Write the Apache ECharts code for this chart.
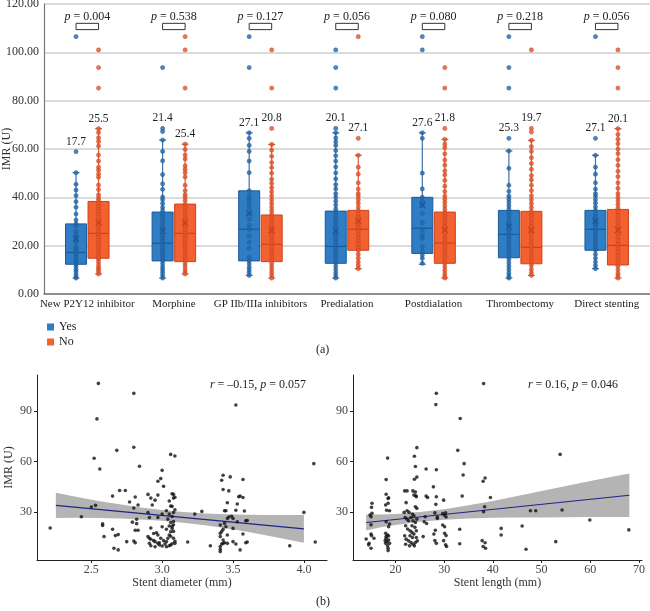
<!DOCTYPE html>
<html><head><meta charset="utf-8">
<script src="https://cdn.jsdelivr.net/npm/echarts@6/dist/echarts.min.js"></script>
<style>html,body{margin:0;padding:0;background:#fff}#c{width:650px;height:611px}</style>
</head><body><div id="c"></div>
<script>
// ---------- Panel (a) data ----------
const categories = ['New P2Y12 inhibitor','Morphine','GP IIb/IIIa inhibitors','Predialation','Postdialation','Thrombectomy','Direct stenting'];
const pValues = ['0.004','0.538','0.127','0.056','0.080','0.218','0.056'];
const yesLabels = ['17.7','21.4','27.1','20.1','27.6','25.3','27.1'];
const noLabels  = ['25.5','25.4','20.8','27.1','21.8','19.7','20.1'];
// [min, Q1, median, Q3, max]
const yesStats = [
  [6.6,12.3,17.2,29.0,50.2],[6.6,13.7,21.0,33.9,63.7],[7.7,13.7,26.8,42.7,66.7],
  [6.6,12.7,19.7,34.3,66.7],[12.3,16.8,27.2,40.0,66.7],[6.6,15.0,24.7,34.6,59.2],[10.5,18.1,26.8,34.6,57.4]];
const noStats = [
  [8.3,14.8,25.1,38.3,68.4],[8.3,13.4,25.1,37.2,62.0],[6.6,13.4,20.6,32.7,61.9],
  [10.5,18.1,26.8,34.6,57.4],[6.6,12.7,21.1,33.9,64.0],[7.7,12.5,19.3,34.2,63.6],[6.6,12.0,20.1,35.0,68.4]];
const yesMeans = [22.8,26.0,33.4,26.0,36.8,27.9,30.2];
const noMeans  = [29.5,29.5,26.5,30.2,26.5,26.5,26.5];
const yesPoints = [
  [106.5,58.9,50.2,45.4,43.0,40.7,38.2,35.9,33.1,30.6,29.0,28.1,25.8,24.4,23.4,22.6,21.6,19.6,18.5,17.5,16.4,15.4,14.2,13.4,12.3,11.3,10.1,9.2,8.0,7.1,6.6],
  [93.7,68.5,67.2,63.7,59.0,55.1,49.4,45.6,43.3,40.1,39.0,37.4,35.8,34.5,33.1,31.9,30.2,29.0,27.6,26.4,25.3,24.1,23.0,21.8,20.7,19.5,18.2,17.1,16.0,14.8,13.7,12.5,11.2,10.1,9.0,7.8,6.6],
  [106.5,93.7,66.7,64.4,61.5,59.0,55.0,50.2,42.7,40.5,39.0,37.2,35.8,33.5,31.0,28.5,26.8,24.0,21.4,19.0,15.2,13.7,12.4,11.0,9.9,8.8,7.7],
  [101.0,93.7,85.2,68.5,66.7,64.6,63.0,61.5,59.4,57.2,55.0,52.6,50.1,47.6,45.3,43.5,41.5,40.0,38.4,36.8,35.2,34.0,32.6,31.2,29.8,28.4,27.0,25.6,24.2,22.8,21.4,20.0,18.6,17.2,15.8,14.4,13.0,11.6,10.2,8.8,7.6,6.6],
  [106.5,101.0,66.7,64.4,50.0,43.5,40.0,38.2,36.7,33.4,29.5,26.5,24.4,23.0,19.6,17.5,16.1,14.8,12.7],
  [106.5,93.7,85.2,64.4,59.2,52.0,45.0,42.5,40.5,39.3,38.0,36.6,35.2,33.8,32.4,31.0,29.6,28.2,26.8,25.4,24.0,22.6,21.2,19.8,18.4,17.0,15.6,14.2,12.8,11.4,10.0,8.6,7.4,6.6],
  [106.5,64.4,57.4,52.5,49.6,46.0,43.4,41.5,40.5,39.0,37.6,36.0,34.6,33.0,31.6,30.2,28.9,27.5,26.1,24.7,23.3,21.9,20.5,19.1,18.1,16.4,14.8,13.2,11.8,10.5]];
const noPoints = [
  [101.0,93.7,85.2,68.4,66.8,64.6,63.1,61.2,57.5,55.0,52.4,51.2,49.6,48.3,45.1,43.2,41.0,39.8,38.9,37.6,36.3,35.1,34.2,33.0,31.7,30.4,29.3,28.4,27.1,26.0,24.7,23.5,22.3,21.4,20.2,19.1,17.8,16.6,15.5,14.4,13.3,12.1,11.0,10.2,9.3,8.3],
  [106.5,101.0,85.2,62.0,59.8,57.5,55.9,53.0,51.6,50.2,48.4,45.0,42.8,41.1,40.0,38.7,37.2,35.8,34.1,32.9,31.5,30.3,29.1,27.8,26.5,25.1,23.9,22.7,21.3,20.2,19.0,17.6,16.4,15.2,14.0,12.8,11.6,10.3,9.2,8.3],
  [101.0,85.2,68.5,61.9,59.5,57.0,54.4,52.3,50.0,47.5,45.8,44.0,42.3,40.6,39.0,37.5,36.0,34.6,33.2,31.8,30.3,28.9,27.4,26.0,24.7,23.3,22.0,20.6,19.3,18.0,16.6,15.3,14.0,12.7,11.4,10.1,8.9,7.7,6.6],
  [106.5,64.4,57.4,52.5,49.6,46.0,43.4,41.5,40.5,39.0,37.6,36.0,34.6,33.0,31.6,30.2,29.0,27.6,26.2,24.8,23.4,22.0,20.6,19.2,18.1,16.4,14.8,13.2,11.8,10.5],
  [93.7,85.2,68.5,64.0,62.0,60.5,58.0,55.4,53.3,51.0,49.3,47.0,44.6,42.4,40.5,39.2,37.8,36.4,35.0,33.6,32.2,30.8,29.4,28.0,26.6,25.2,23.8,22.4,21.0,19.6,18.2,16.8,15.4,14.0,12.6,11.2,9.8,8.4,7.2,6.6],
  [101.0,68.5,67.0,63.6,61.0,59.0,56.4,54.0,51.6,49.0,47.2,45.0,42.8,40.6,39.0,37.4,35.8,34.2,32.6,31.0,29.4,27.8,26.2,24.6,23.0,21.4,19.8,18.2,16.6,15.0,13.4,11.8,10.2,8.8,7.7],
  [101.0,93.7,85.2,68.4,66.0,64.0,62.2,60.0,58.1,55.6,53.2,50.8,48.6,46.0,43.7,41.5,40.0,38.5,37.0,35.5,34.0,32.5,31.0,29.5,28.0,26.5,25.0,23.5,22.0,20.5,19.0,17.5,16.0,14.5,13.0,11.5,10.0,8.5,7.5,6.6]];

// ---------- Panel (b) data ----------
const diameterPoints = [
  [2.21,20.5],[2.55,106.5],[2.54,85.4],[2.52,62.0],[2.56,55.6],[2.43,27.2],[2.50,33.0],[2.53,34.0],[2.58,23.0],[2.58,22.0],
  [2.59,15.4],[2.65,39.5],[2.68,66.7],[2.65,19.8],[2.67,16.0],[2.69,16.6],[2.66,8.5],[2.69,7.5],[2.70,42.8],[2.74,42.8],
  [2.77,36.0],[2.75,12.4],[2.80,100.6],[2.80,68.5],[2.81,39.0],[2.80,32.4],[2.80,12.8],[2.81,11.8],[2.82,25.7],[2.82,23.1],
  [2.81,19.2],[2.83,19.2],[2.79,24.0],[2.84,57.2],[2.83,34.2],[2.90,40.5],[2.92,38.3],[2.93,34.2],[2.95,37.1],[2.97,40.1],
  [2.97,48.3],[2.99,49.9],[3.00,54.8],[3.01,45.3],[3.06,64.3],[3.09,63.3],[3.05,36.6],[3.08,40.5],[3.09,38.8],[3.06,33.6],
  [2.90,29.7],[2.91,26.8],[2.97,26.8],[3.00,28.8],[3.03,30.8],[3.05,28.8],[3.08,29.7],[3.04,25.8],[3.06,23.8],[3.08,22.5],
  [2.90,15.4],[2.91,14.4],[2.92,13.8],[2.94,13.0],[2.95,12.4],[2.97,11.4],[2.98,10.4],[3.00,9.8],[3.02,11.0],[3.03,12.4],
  [3.04,14.4],[3.05,16.4],[3.06,18.3],[3.07,20.3],[3.08,14.4],[3.09,11.4],[2.91,11.4],[2.92,10.0],[2.94,17.3],[2.96,17.7],
  [2.97,16.4],[2.99,14.4],[3.01,13.0],[3.03,9.4],[3.05,10.0],[3.06,10.4],[2.95,9.4],[2.98,11.8],[2.92,20.5],[3.00,21.3],
  [3.03,19.8],[3.05,21.7],[3.52,93.7],[4.07,58.8],[4.08,12.2],[4.00,29.8],[3.90,9.9],[3.23,28.8],[3.28,30.4],[3.18,12.2],
  [3.34,9.9],[3.07,40.9],[3.08,38.3],[3.07,33.4],[3.09,31.4],[3.07,27.4],[3.08,24.4],[3.07,21.5],[3.08,18.5],[3.06,15.6],
  [3.09,12.6],[3.07,11.2],[3.42,48.9],[3.43,51.9],[3.48,50.9],[3.57,49.4],[3.43,43.4],[3.47,42.6],[3.54,39.1],[3.55,39.5],
  [3.57,38.7],[3.46,35.5],[3.53,34.8],[3.44,30.8],[3.45,30.8],[3.52,31.1],[3.58,30.6],[3.47,27.1],[3.49,27.5],[3.46,26.2],
  [3.50,26.2],[3.59,24.8],[3.53,24.2],[3.41,22.3],[3.44,23.3],[3.45,21.3],[3.50,20.3],[3.41,17.4],[3.42,18.4],[3.43,19.7],
  [3.46,16.4],[3.57,17.0],[3.41,15.4],[3.43,13.4],[3.43,11.4],[3.42,11.0],[3.44,11.8],[3.46,11.4],[3.50,12.4],[3.52,11.0],
  [3.59,11.8],[3.41,7.9],[3.41,6.5],[3.55,7.5],[3.41,9.5],[3.60,12.2],[3.60,25.0]];
const lengthPoints = [
  [14.0,14.0],[14.5,10.5],[15.0,8.5],[14.6,11.5],[15.0,17.0],[15.1,16.0],[15.0,22.4],[14.8,28.2],[15.2,29.3],[15.1,32.8],
  [15.2,35.2],[15.6,14.4],[15.0,27.2],[18.4,62.1],[18.1,49.3],[18.1,40.6],[18.6,38.5],[18.0,34.2],[18.5,35.2],[18.2,31.1],
  [18.8,30.8],[18.5,38.1],[18.1,24.2],[18.8,22.9],[18.6,21.3],[18.0,17.4],[18.4,16.4],[18.1,14.4],[18.6,13.4],[18.3,12.4],
  [18.0,11.4],[18.8,11.4],[18.4,9.9],[18.5,8.5],[18.5,7.1],[18.1,15.4],[18.6,15.8],[17.9,13.0],
  [21.9,42.6],[22.4,42.6],[23.6,42.6],[24.1,41.9],[24.2,39.7],[23.8,40.1],[24.3,39.1],[22.2,35.6],[24.1,33.2],[24.4,32.2],
  [21.8,29.8],[22.4,30.8],[22.8,29.8],[23.5,28.8],[23.8,27.8],[22.0,26.8],[22.4,25.8],[22.7,24.8],[23.2,26.8],[23.6,24.8],
  [24.1,23.8],[24.4,25.8],[22.1,21.9],[22.5,19.9],[23.0,18.9],[23.4,17.9],[23.8,16.9],[24.3,18.9],[21.9,15.9],[22.2,13.9],
  [22.7,12.9],[23.2,11.9],[23.6,10.9],[24.1,11.9],[24.5,12.9],[22.1,10.9],[22.9,9.9],[23.9,9.9],[24.3,14.9],[23.5,14.9],
  [23.0,15.9],[24.0,20.9],[23.4,21.9],[24.4,68.3],[23.9,63.2],[24.1,57.1],[24.4,50.8],[23.9,49.5],
  [26.3,55.6],[26.3,39.5],[26.6,38.7],[25.9,24.2],[26.4,23.2],[25.7,15.4],[26.1,27.2],
  [28.4,100.6],[28.3,93.9],[28.4,55.2],[27.8,45.0],[28.4,39.1],[28.3,34.6],[28.1,29.5],[28.6,27.1],[28.2,19.2],[28.4,11.4],
  [28.1,13.0],[28.6,26.2],[27.9,16.9],
  [29.9,37.1],[30.3,29.5],[30.4,27.1],[29.7,22.3],[30.1,21.3],[30.1,17.4],[30.4,16.0],[29.9,13.0],[30.3,10.5],[30.5,9.5],
  [29.7,29.1],[30.1,28.1],
  [32.8,66.7],[33.3,85.6],[34.1,58.8],[33.9,52.0],[33.7,39.5],[33.2,19.8],[33.2,11.2],
  [38.1,106.4],[38.0,48.3],[38.4,50.3],[38.3,33.1],[38.1,30.2],[37.8,13.0],[38.4,11.8],[38.0,9.5],[38.5,8.5],
  [39.5,38.7],[41.7,20.3],[41.7,16.4],[46.0,21.7],[46.8,7.9],[47.7,30.8],[48.8,30.8],[52.9,12.4],[53.8,64.3],[54.2,31.2],
  [59.9,25.3],[67.9,19.4]];
// regression lines and 95% CI bands
const diamFit = [[2.25,34.0],[4.0,20.0]];
const diamBandX  = [2.25,2.4,2.55,2.7,2.85,3.0,3.15,3.3,3.45,3.6,3.75,3.9,4.0];
const diamBandLo = [26.5,26.6,26.5,26.2,25.6,24.8,23.7,22.2,20.4,18.3,15.9,13.4,11.8];
const diamBandHi = [41.5,38.9,36.6,34.6,32.7,31.2,30.0,29.2,28.7,28.4,28.3,28.2,28.2];
const lenFit = [[14,23.8],[68,40.0]];
const lenBandX  = [14,17,20,25,30,35,40,45,50,55,60,65,68];
const lenBandLo = [19.1,20.9,22.3,24.2,25.5,26.2,26.6,26.7,26.8,26.9,27.0,27.0,27.1];
const lenBandHi = [28.5,28.6,28.9,30.0,31.7,34.0,36.6,39.5,42.6,45.5,48.4,51.3,53.0];
const bYTicks = [30,60,90];
const diamTicks = [2.5,3.0,3.5,4.0];
const lenTicks = [20,30,40,50,60,70];

// ---------- styling ----------
const FONT = '"Liberation Serif", "DejaVu Serif", serif';
const C = {
  yes: {fill:'#2f7dc4', stroke:'#1b5a97', dot:'#2368aa'},
  no:  {fill:'#f2612f', stroke:'#c9441c', dot:'#e4542a'}
};
const YES_OFF = 0.37, NO_OFF = 0.63;

function boxSeries(name, stats, off, col) {
  return {
    type:'custom', name, xAxisIndex:1, yAxisIndex:0, z:2,
    itemStyle:{color:col.fill},
    data: stats.map((s,i)=>[i+off, s[0], s[1], s[2], s[3], s[4]]),
    encode:{x:0, y:[1,5]},
    renderItem:(params, api)=>{
      const x = api.value(0);
      const pMin = api.coord([x, api.value(1)]), pQ1 = api.coord([x, api.value(2)]);
      const pMd = api.coord([x, api.value(3)]), pQ3 = api.coord([x, api.value(4)]);
      const pMax = api.coord([x, api.value(5)]);
      const cx = pMin[0], w = 21, cap = 7;
      const ws = {stroke:col.stroke, lineWidth:1.2, opacity:0.85};
      return {type:'group', children:[
        {type:'line', shape:{x1:cx,y1:pMin[1],x2:cx,y2:pMax[1]}, style:ws},
        {type:'line', shape:{x1:cx-cap/2,y1:pMax[1],x2:cx+cap/2,y2:pMax[1]}, style:ws},
        {type:'line', shape:{x1:cx-cap/2,y1:pMin[1],x2:cx+cap/2,y2:pMin[1]}, style:ws},
        {type:'rect', shape:{x:cx-w/2, y:pQ3[1], width:w, height:pQ1[1]-pQ3[1]}, style:{fill:col.fill, stroke:col.stroke, lineWidth:1}},
        {type:'line', shape:{x1:cx-w/2,y1:pMd[1],x2:cx+w/2,y2:pMd[1]}, style:{stroke:col.stroke, lineWidth:1.2}}
      ]};
    }
  };
}
function pointSeries(name, pts, off, col) {
  const data = [];
  pts.forEach((arr,i)=>arr.forEach(v=>data.push([i+off, v])));
  return {type:'scatter', name, xAxisIndex:1, yAxisIndex:0, z:3, symbolSize:4.2, data,
    itemStyle:{color:col.dot, borderColor:col.stroke, borderWidth:0.6}, silent:true};
}
function overlaySeries(stats, means, pts, labels, off, col) {
  return {type:'custom', xAxisIndex:1, yAxisIndex:0, z:4, silent:true,
    data: means.map((m,i)=>{
      const inl = pts[i].filter(v=>v<80);
      return [i+off, m, Math.max(stats[i][4], ...inl)];
    }),
    encode:{x:0, y:[1,2]},
    renderItem:(params, api)=>{
      const x = api.value(0);
      const pm = api.coord([x, api.value(1)]), pt = api.coord([x, api.value(2)]);
      const s = 3;
      return {type:'group', children:[
        {type:'line', shape:{x1:pm[0]-s,y1:pm[1]-s,x2:pm[0]+s,y2:pm[1]+s}, style:{stroke:col.stroke, lineWidth:1.2}},
        {type:'line', shape:{x1:pm[0]-s,y1:pm[1]+s,x2:pm[0]+s,y2:pm[1]-s}, style:{stroke:col.stroke, lineWidth:1.2}},
        {type:'text', x:pt[0], y:pt[1]-10, style:{text:labels[params.dataIndex], font:'11.5px '+FONT, fill:'#222', align:'center', verticalAlign:'middle'}}
      ]};
    }
  };
}
const pSeries = {
  type:'custom', xAxisIndex:1, yAxisIndex:0, z:4, silent:true,
  data: pValues.map((p,i)=>[i, 110]),
  encode:{x:0, y:1},
  renderItem:(params, api)=>{
    const i = api.value(0);
    const a = api.coord([i+YES_OFF, 112.0]), b = api.coord([i+NO_OFF, 109.4]);
    const t = api.coord([i+0.5, 114.6]);
    return {type:'group', children:[
      {type:'rect', shape:{x:a[0], y:a[1], width:b[0]-a[0], height:b[1]-a[1]}, style:{fill:'#fff', stroke:'#333', lineWidth:1}},
      {type:'text', x:t[0], y:t[1], style:{text:'{i|p} = '+pValues[params.dataIndex], font:'12px '+FONT, fill:'#222', align:'center', verticalAlign:'middle',
        rich:{i:{fontStyle:'italic', fontFamily:FONT, fontSize:12, fill:'#222'}}}}
    ]};
  }
};
function bandSeries(xi, yi, bx, lo, hi) {
  return {type:'custom', xAxisIndex:xi, yAxisIndex:yi, z:1, silent:true,
    data:[[bx[0], lo[0]]],
    renderItem:(params, api)=>{
      const pts = [];
      bx.forEach((x,k)=>pts.push(api.coord([x, hi[k]])));
      for (let k=bx.length-1;k>=0;k--) pts.push(api.coord([bx[k], lo[k]]));
      return {type:'polygon', shape:{points:pts}, style:{fill:'#b4b4b4'}};
    }
  };
}
const bAxisCommon = {
  axisLine:{show:true, lineStyle:{color:'#222', width:1}},
  splitLine:{show:false},
};

const chart = echarts.init(document.getElementById('c'), null, {renderer:'canvas'});
chart.setOption({
  animation:false,
  textStyle:{fontFamily:FONT},
  grid:[
    {left:44, top:4, width:606, height:290, containLabel:false, outerBoundsMode:'none'},
    {left:37, top:375, width:290, height:185, containLabel:false, outerBoundsMode:'none'},
    {left:353, top:375, width:289, height:185, containLabel:false, outerBoundsMode:'none'}
  ],
  legend:{orient:'vertical', left:42, top:316, itemWidth:7, itemHeight:7, itemGap:3, icon:'rect',
    textStyle:{fontFamily:FONT, fontSize:12, color:'#222'}, data:['Yes','No'], selectedMode:false},
  xAxis:[
    {type:'category', gridIndex:0, data:categories, boundaryGap:true,
      axisLine:{lineStyle:{color:'#777', width:1.5}}, axisTick:{show:false},
      axisLabel:{fontFamily:FONT, fontSize:11, color:'#222', margin:5, interval:0}},
    {type:'value', gridIndex:0, min:0, max:7, show:false},
    Object.assign({type:'value', gridIndex:1, min:2.117, max:4.163,
      name:'Stent diameter (mm)', nameLocation:'middle', nameGap:17, nameMoveOverlap:false,
      nameTextStyle:{fontFamily:FONT, fontSize:12, color:'#333'},
      axisLabel:{customValues:diamTicks, formatter:v=>v.toFixed(1), fontFamily:FONT, fontSize:12, color:'#444', margin:4}},
      bAxisCommon, {axisTick:{show:true, length:3, customValues:diamTicks, lineStyle:{color:'#222'}}}),
    Object.assign({type:'value', gridIndex:2, min:11.3, max:70.6,
      name:'Stent length (mm)', nameLocation:'middle', nameGap:17, nameMoveOverlap:false,
      nameTextStyle:{fontFamily:FONT, fontSize:12, color:'#333'},
      axisLabel:{customValues:lenTicks, fontFamily:FONT, fontSize:12, color:'#444', margin:4}},
      bAxisCommon, {axisTick:{show:true, length:3, customValues:lenTicks, lineStyle:{color:'#222'}}})
  ],
  yAxis:[
    {type:'value', gridIndex:0, min:0, max:120, interval:20,
      name:'IMR (U)', nameLocation:'middle', nameGap:31, nameMoveOverlap:false, nameTextStyle:{fontFamily:FONT, fontSize:12, color:'#333'},
      axisLine:{show:true, lineStyle:{color:'#777', width:1.2}}, axisTick:{show:false},
      axisLabel:{formatter:v=>v.toFixed(2), fontFamily:FONT, fontSize:12, color:'#333', margin:5},
      splitLine:{show:true, lineStyle:{color:'#cfcfcf', width:1.5}}},
    Object.assign({type:'value', gridIndex:1, min:1.5, max:111.5,
      name:'IMR (U)', nameLocation:'middle', nameGap:22, nameMoveOverlap:false, nameTextStyle:{fontFamily:FONT, fontSize:12, color:'#333'},
      axisLabel:{customValues:bYTicks, fontFamily:FONT, fontSize:12, color:'#444', margin:5}},
      bAxisCommon, {axisTick:{show:true, length:3, customValues:bYTicks, lineStyle:{color:'#222'}}}),
    Object.assign({type:'value', gridIndex:2, min:1.5, max:111.5,
      axisLabel:{customValues:bYTicks, fontFamily:FONT, fontSize:12, color:'#444', margin:5}},
      bAxisCommon, {axisTick:{show:true, length:3, customValues:bYTicks, lineStyle:{color:'#222'}}})
  ],
  graphic:[
    {type:'text', left:316, top:344, style:{text:'(a)', font:'12px '+FONT, fill:'#222'}},
    {type:'text', left:316, top:596, style:{text:'(b)', font:'12px '+FONT, fill:'#222'}},
    {type:'text', x:258, y:385, style:{text:'{i|r} = –0.15, {i|p} = 0.057', font:'12px '+FONT, fill:'#222', align:'center', verticalAlign:'middle',
      rich:{i:{fontStyle:'italic', fontFamily:FONT, fontSize:12}}}},
    {type:'text', x:573, y:385, style:{text:'{i|r} = 0.16, {i|p} = 0.046', font:'12px '+FONT, fill:'#222', align:'center', verticalAlign:'middle',
      rich:{i:{fontStyle:'italic', fontFamily:FONT, fontSize:12}}}}
  ],
  series:[
    boxSeries('Yes', yesStats, YES_OFF, C.yes),
    boxSeries('No', noStats, NO_OFF, C.no),
    pointSeries('Yes', yesPoints, YES_OFF, C.yes),
    pointSeries('No', noPoints, NO_OFF, C.no),
    overlaySeries(yesStats, yesMeans, yesPoints, yesLabels, YES_OFF, C.yes),
    overlaySeries(noStats, noMeans, noPoints, noLabels, NO_OFF, C.no),
    pSeries,
    bandSeries(2, 1, diamBandX, diamBandLo, diamBandHi),
    {type:'line', xAxisIndex:2, yAxisIndex:1, data:diamFit, symbol:'none', z:2, silent:true, lineStyle:{color:'#1f2585', width:1.2}},
    {type:'scatter', xAxisIndex:2, yAxisIndex:1, data:diameterPoints, symbolSize:3.6, z:3, silent:true, itemStyle:{color:'#111'}},
    bandSeries(3, 2, lenBandX, lenBandLo, lenBandHi),
    {type:'line', xAxisIndex:3, yAxisIndex:2, data:lenFit, symbol:'none', z:2, silent:true, lineStyle:{color:'#1f2585', width:1.2}},
    {type:'scatter', xAxisIndex:3, yAxisIndex:2, data:lengthPoints, symbolSize:3.6, z:3, silent:true, itemStyle:{color:'#111'}}
  ]
});
</script></body></html>
